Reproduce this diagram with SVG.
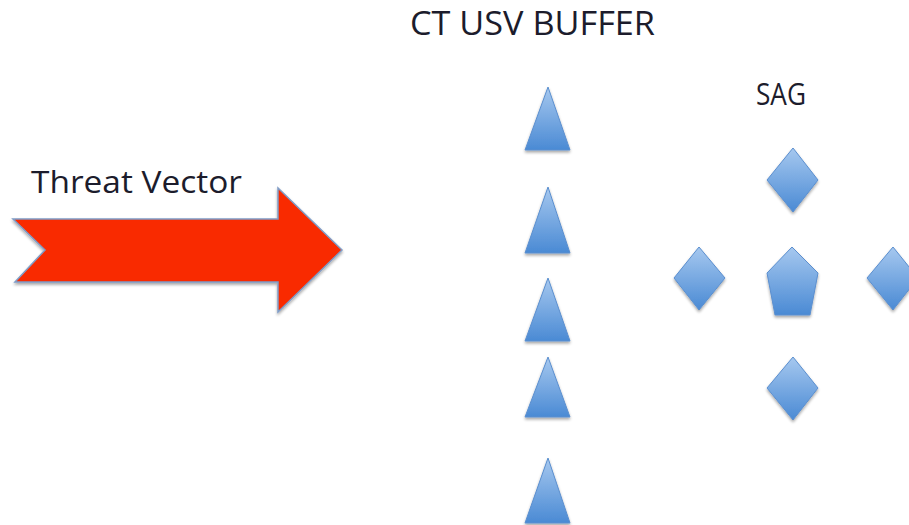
<svg xmlns="http://www.w3.org/2000/svg" width="909" height="525" viewBox="0 0 909 525">
<defs>
<linearGradient id="blue" x1="0" y1="0" x2="0" y2="1">
<stop offset="0" stop-color="#a6c8ef"/>
<stop offset="1" stop-color="#4a8ad4"/>
</linearGradient>
<filter id="sh" x="-20%" y="-20%" width="140%" height="150%">
<feGaussianBlur in="SourceAlpha" stdDeviation="1.5"/>
<feOffset dx="0" dy="2" result="b"/>
<feComponentTransfer><feFuncA type="linear" slope="0.35"/></feComponentTransfer>
<feMerge><feMergeNode/><feMergeNode in="SourceGraphic"/></feMerge>
</filter>
</defs>
<style>
.shape{fill:url(#blue);stroke:#5b8fcf;stroke-width:1;filter:url(#sh)}
.lbl{font-family:"Open Sans","Liberation Sans",sans-serif;fill:#1c1c2c}
</style>
<rect width="909" height="525" fill="#ffffff"/>
<g id="threat-vector">
<polygon points="13,219 278,219 278,188 342,250 278,312 278,282 15,282 45,250" fill="#f92a00" stroke="#7f9cc6" stroke-width="1.5" filter="url(#sh)"/>
<text class="lbl" x="31" y="193" font-size="31" textLength="211" lengthAdjust="spacingAndGlyphs">Threat Vector</text>
</g>
<g id="ct-usv-buffer">
<text class="lbl" x="410" y="35" font-size="32" textLength="245" lengthAdjust="spacingAndGlyphs">CT USV BUFFER</text>
<polygon class="shape" points="548,87 570,150 525,150"/>
<polygon class="shape" points="548,187 570,253 525,253"/>
<polygon class="shape" points="548,278 570,341 525,341"/>
<polygon class="shape" points="548,357 570,417 525,417"/>
<polygon class="shape" points="548,458 570,523 525,523"/>
</g>
<g id="sag">
<text class="lbl" x="756" y="105" font-size="31" textLength="50" lengthAdjust="spacingAndGlyphs">SAG</text>
<polygon class="shape" points="793,148 818,180 793,212 767,180"/>
<polygon class="shape" points="699,247 725,278 699,310 674,278"/>
<polygon class="shape" points="792,247 818,273 810,315 775,315 767,273"/>
<polygon class="shape" points="893,247 918,278 893,310 867,278"/>
<polygon class="shape" points="793,357 818,388 793,420 767,388"/>
</g>
</svg>
